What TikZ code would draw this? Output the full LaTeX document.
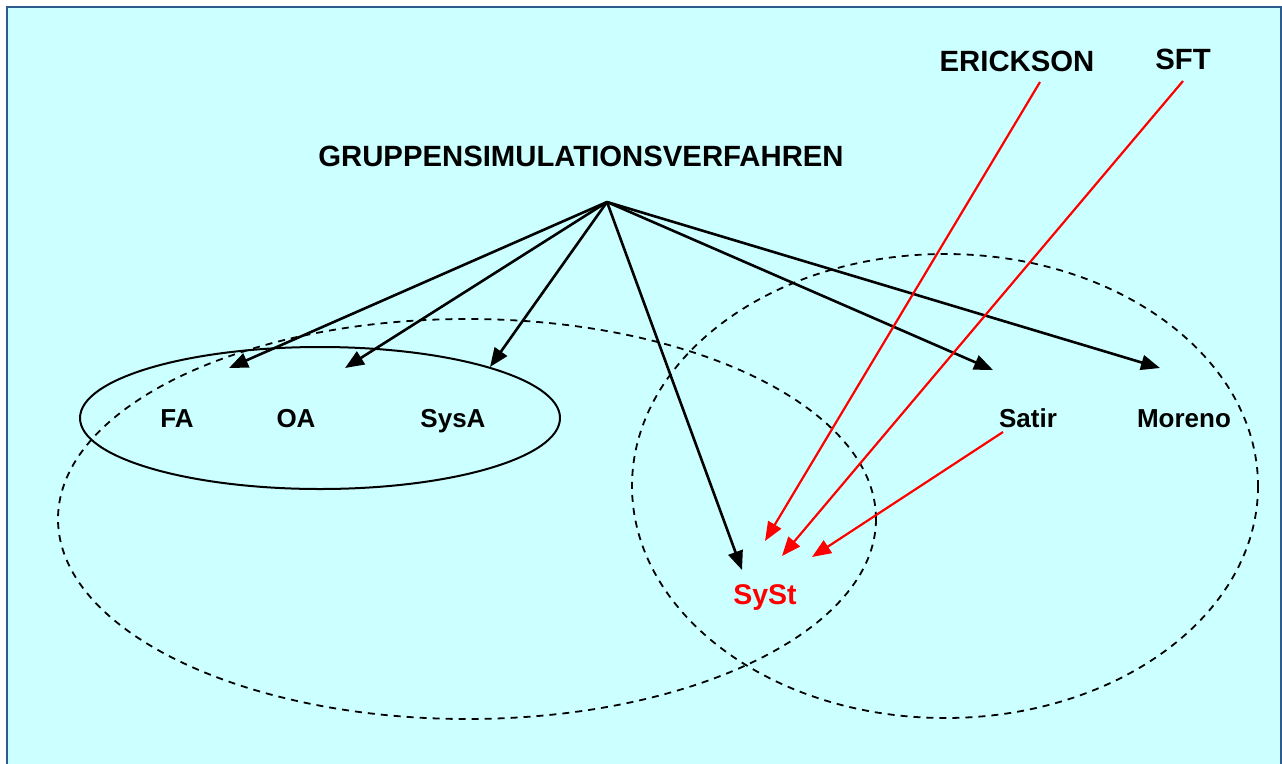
\documentclass[tikz,border=0pt]{standalone}
\usepackage{fontspec}
\setmainfont{Liberation Sans}
\usetikzlibrary{arrows.meta}
\definecolor{bgcyan}{HTML}{CCFFFF}
\definecolor{framebl}{HTML}{2F5C8F}
\begin{document}
\begin{tikzpicture}[x=1pt,y=-1pt,
  big/.style={font=\fontsize{29.3}{34}\selectfont\bfseries, inner sep=0pt, anchor=base},
  lbl/.style={font=\fontsize{26}{30}\selectfont\bfseries, inner sep=0pt, anchor=base},
  blk/.style={line width=2.6pt, -{Triangle[length=19pt,width=15pt]}},
  redarr/.style={red, line width=2.2pt, -{Triangle[length=19pt,width=15pt]}},
  dsh/.style={line width=1.8pt, dash pattern=on 7pt off 6pt}]
\useasboundingbox (0,0) rectangle (1282,763);
\fill[white] (0,0) rectangle (1282,763);
\fill[bgcyan] (7,7) rectangle (1281,775);
\draw[framebl, line width=2.5pt] (7,7) rectangle (1281,775);

% ellipses
\draw[line width=2pt] (320,418) ellipse [x radius=240, y radius=71];
\draw[dsh] (467,519) ellipse [x radius=409, y radius=200];
\draw[dsh] (945,486) ellipse [x radius=313, y radius=232];

% labels
\node[big] (title) at (581,166.5) {GRUPPENSIMULATIONSVERFAHREN};
\node[big] (erick) at (1017,71.5) {ERICKSON};
\node[big] (sft) at (1183,69.5) {SFT};
\node[lbl] (fa) at (177,427.5) {FA};
\node[lbl] (oa) at (296,427.5) {OA};
\node[lbl] (sysa) at (453,427.5) {SysA};
\node[lbl] (satir) at (1028,427.5) {Satir};
\node[lbl] (moreno) at (1184,427.5) {Moreno};
\node[big, red, font=\fontsize{28.5}{33}\selectfont\bfseries] (syst) at (765,604.5) {SySt};

% coordinates
\coordinate (apex) at (607,202);
\coordinate (tfa) at (229,368);
\coordinate (toa) at (345,368);
\coordinate (tsysa) at (490,367);
\coordinate (tsyst) at (742,570);
\coordinate (tsatir) at (993,370);
\coordinate (tmoreno) at (1160,368);
\coordinate (serick) at (1040,82);
\coordinate (ssft) at (1183,81);
\coordinate (ssatir) at (1003,432);
\coordinate (r1) at (765,541);
\coordinate (r2) at (782,556);
\coordinate (r3) at (812,557);

% black arrows
\foreach \t in {tfa,toa,tsysa,tsyst,tsatir,tmoreno}
  \draw[blk, line join=round] (apex) -- (\t);

% red arrows
\draw[redarr] (serick) -- (r1);
\draw[redarr] (ssft) -- (r2);
\draw[redarr] (ssatir) -- (r3);
\end{tikzpicture}
\end{document}
